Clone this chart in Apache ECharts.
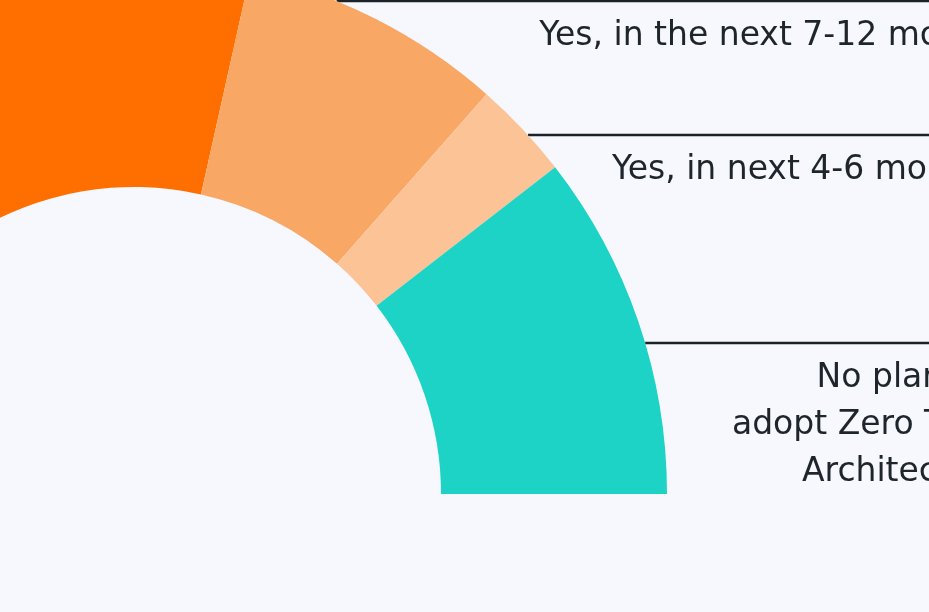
<!DOCTYPE html>
<html>
<head>
<meta charset="utf-8">
<script src="https://cdn.jsdelivr.net/npm/echarts@6/dist/echarts.min.js"></script>
<style>
  html, body { margin: 0; padding: 0; background: #f7f8fe; }
  #main { width: 929px; height: 612px; }
</style>
</head>
<body>
<div id="main"></div>
<script>
// 数据
var categories = [
  'Yes, already adopted',
  'Yes, in the next 7-12 months',
  'Yes, in next 4-6 months',
  'No plans to\nadopt Zero Trust\nArchitecture'
];
var shares = [57, 16, 6, 21];
var colors = ['#ff6f00', '#f9a765', '#fcc396', '#1dd3c6'];

// 版面
var cx = 134, cy = 494, rIn = 307, rOut = 533;
var lineY = [null, 1, 135, 343];          // 标注横线的位置
var textRight = [null, 1012, 999, 1004];  // 文字右端

var chart = echarts.init(document.getElementById('main'));

var option = {
  backgroundColor: '#f7f8fe',
  animation: false,
  series: [{
    type: 'pie',
    center: [cx, cy],
    radius: [rIn, rOut],
    startAngle: 180,
    endAngle: 0,
    clockwise: true,
    avoidLabelOverlap: false,
    silent: true,
    itemStyle: { borderWidth: 0 },
    label: {
      show: true,
      position: 'outside',
      color: '#1e252b',
      fontFamily: 'DejaVu Sans',
      fontSize: 33,
      lineHeight: 47,
      align: 'right'
    },
    labelLine: {
      show: true,
      smooth: false,
      lineStyle: { color: '#1b2329', width: 2.7 }
    },
    labelLayout: function (params) {
      var i = params.dataIndex;
      var y = lineY[i];
      if (y == null) return {};
      var dy = cy - y;
      var x0 = cx + Math.sqrt(rOut * rOut - dy * dy);
      return {
        x: textRight[i],
        y: y + 12,
        align: 'right',
        verticalAlign: 'top',
        labelLinePoints: [[x0, y], [x0 + 1, y], [1020, y]]
      };
    },
    data: categories.map(function (name, i) {
      var item = {
        name: name,
        value: shares[i],
        itemStyle: { color: colors[i] }
      };
      if (lineY[i] == null) {
        item.label = { show: false };
        item.labelLine = { show: false };
      }
      return item;
    })
  }]
};
chart.setOption(option);
</script>
</body>
</html>
